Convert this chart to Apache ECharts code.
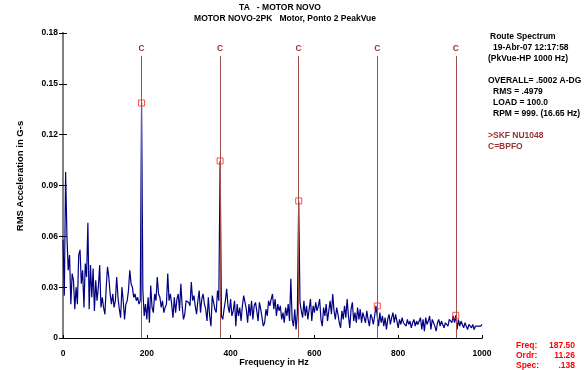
<!DOCTYPE html>
<html><head><meta charset="utf-8">
<script src="https://cdn.jsdelivr.net/npm/echarts@6/dist/echarts.min.js"></script>
<style>html,body{margin:0;padding:0;background:#fff}#c{width:586px;height:370px}</style>
</head><body><div id="c"></div><script>
// ---- data ----
const freqStep = 3.125; // Hz between spectral values (0..1000 Hz)
const band0to250 = [
0.058,0.025,0.098,0.060,0.040,0.049,0.020,0.038,0.034,0.017,
0.030,0.020,0.049,0.052,0.032,0.040,0.018,0.044,0.036,0.068,
0.017,0.043,0.024,0.041,0.016,0.034,0.022,0.030,0.043,0.018,
0.024,0.018,0.014,0.030,0.042,0.036,0.026,0.020,0.026,0.018,
0.022,0.036,0.024,0.017,0.012,0.030,0.022,0.011,0.020,0.022,
0.028,0.040,0.032,0.030,0.024,0.026,0.022,0.024,0.020,0.022,
0.139,0.028,0.013,0.020,0.011,0.024,0.009,0.031,0.018,0.015,
0.026,0.022,0.036,0.026,0.024,0.018,0.022,0.015,0.018,0.020,
0.038];
const band250to500 = [
0.022,0.026,0.020,0.012,0.024,0.015,0.023,0.026,0.016,0.032,
0.019,0.011,0.014,0.022,0.021,0.021,0.019,0.033,0.022,0.025,
0.019,0.014,0.022,0.028,0.015,0.023,0.026,0.020,0.017,0.010,
0.024,0.013,0.007,0.025,0.026,0.017,0.015,0.028,
0.022,0.1045,
0.013,0.011,0.017,0.022,0.029,0.019,0.015,0.023,0.013,0.016,
0.022,0.007,0.020,0.013,0.018,0.010,0.019,0.025,0.021,0.017,
0.009,0.020,0.013,0.022,0.011,0.019,0.021,0.016,0.010,0.021,
0.017,0.012,0.007,0.009,0.017,0.013,0.022,0.019,0.023,0.026];
const band500to750 = [
0.017,0.023,0.013,0.020,0.016,0.019,0.011,0.015,0.009,0.018,
0.013,0.020,0.010,0.035,0.011,0.007,0.017,0.005,
0.015,0.081,
0.021,0.016,0.012,0.022,0.013,0.019,0.011,0.017,0.023,0.010,
0.019,0.015,0.021,0.016,0.019,0.023,0.011,0.007,0.018,0.013,
0.020,0.010,0.016,0.022,0.014,0.026,0.016,0.011,0.018,0.014,
0.009,0.006,0.016,0.011,0.019,0.012,0.023,0.013,0.006,0.017,
0.021,0.010,0.015,0.009,0.018,0.011,0.017,0.009,0.015,0.012,
0.009,0.016,0.011,0.007,0.014,0.012,0.008,0.013,0.019,
0.019];
const band750to1000 = [
0.007,0.015,0.009,0.013,0.007,0.012,0.005,0.011,0.014,0.008,
0.012,0.015,0.009,0.014,0.010,0.006,0.011,0.008,0.012,0.009,
0.010,0.007,0.011,0.008,0.010,0.006,0.009,0.011,0.007,0.010,
0.008,0.009,0.012,0.005,0.011,0.004,0.012,0.008,0.010,0.013,
0.005,0.011,0.009,0.007,0.004,0.009,0.011,0.007,0.010,0.008,
0.006,0.009,0.010,0.007,0.011,0.012,0.009,0.013,
0.009,0.0134,
0.005,0.011,0.007,0.010,0.008,0.006,0.009,0.007,0.005,0.008,
0.007,0.006,0.008,0.005,0.007,0.006,0.007,0.008,0.007,
0.008];
const bpfoHarmonics = [187.5, 375, 562.5, 750, 937.5];
const bpfoPeaks = [0.1387, 0.1045, 0.0809, 0.0189, 0.0134];
const cursorFreq = 187.5;
const titleLines = ['TA   - MOTOR NOVO', 'MOTOR NOVO-2PK   Motor, Ponto 2 PeakVue'];
const infoLines = ['Route Spectrum', '19-Abr-07 12:17:58', '(PkVue-HP 1000 Hz)',
  'OVERALL= .5002 A-DG', 'RMS = .4979', 'LOAD = 100.0', 'RPM = 999. (16.65 Hz)'];
const faultLines = ['>SKF NU1048', 'C=BPFO'];
const cursorNames = ['Freq:', 'Ordr:', 'Spec:'];
const cursorValues = ['187.50', '11.26', '.138'];
const yName = 'RMS Acceleration in G-s';
const xName = 'Frequency in Hz';

// ---- chart ----
const spectrum = band0to250.concat(band250to500, band500to750, band750to1000);
const FF = '"Liberation Sans", Arial, Helvetica, sans-serif';
const font = (s) => 'bold ' + s + 'px ' + FF;
const chart = echarts.init(document.getElementById('c'), null, {renderer: 'canvas'});

const graphics = [];
const titleY = [8, 19], titleX = [280, 285];
titleLines.forEach((t, i) => graphics.push({type: 'text', x: titleX[i], y: titleY[i],
  style: {text: t, font: font(8.5), fill: '#000', align: 'center', verticalAlign: 'middle'}}));
const infoX = [490, 493, 488, 488, 493, 493, 493];
const infoY = [37, 48, 59, 81, 92, 103, 114];
infoLines.forEach((t, i) => graphics.push({type: 'text', x: infoX[i], y: infoY[i],
  style: {text: t, font: font(8.5), fill: '#000', align: 'left', verticalAlign: 'middle'}}));
const faultY = [136, 147];
faultLines.forEach((t, i) => graphics.push({type: 'text', x: 488, y: faultY[i],
  style: {text: t, font: font(8.5), fill: '#993333', align: 'left', verticalAlign: 'middle'}}));
const curY = [346, 356, 366];
cursorNames.forEach((t, i) => {
  graphics.push({type: 'text', x: 516, y: curY[i],
    style: {text: t, font: font(8.5), fill: '#ff0000', align: 'left', verticalAlign: 'middle'}});
  graphics.push({type: 'text', x: 575, y: curY[i],
    style: {text: cursorValues[i], font: font(8.5), fill: '#ff0000', align: 'right', verticalAlign: 'middle'}});
});
graphics.push({type: 'text', x: 20, y: 176, rotation: Math.PI / 2,
  style: {text: yName, font: font(9.5), fill: '#000', align: 'center', verticalAlign: 'middle'}});
graphics.push({type: 'text', x: 274, y: 363,
  style: {text: xName, font: font(9), fill: '#000', align: 'center', verticalAlign: 'middle'}});

const axisText = {fontFamily: FF, fontWeight: 'bold', fontSize: 8.5, color: '#000'};
const option = {
  animation: false,
  backgroundColor: '#fff',
  grid: {left: 63, right: 104, top: 33, bottom: 32, containLabel: false, outerBoundsMode: 'none'},
  xAxis: [{
    type: 'value', position: 'bottom', min: 0, max: 1000, interval: 200,
    axisLine: {lineStyle: {color: '#000', width: 1}},
    axisTick: {inside: true, length: 3, lineStyle: {color: '#000'}},
    axisLabel: Object.assign({margin: 11, formatter: v => String(v)}, axisText),
    splitLine: {show: false}
  }, {
    type: 'value', position: 'top', min: 0, max: 1000, interval: 200,
    axisLine: {lineStyle: {color: '#000', width: 1}},
    axisTick: {inside: false, length: 3, lineStyle: {color: '#000'}},
    axisLabel: {show: false}, splitLine: {show: false}
  }],
  yAxis: [{
    type: 'value', position: 'left', min: 0, max: 0.18, interval: 0.03,
    axisLine: {show: true, lineStyle: {color: '#808080', width: 2}},
    axisTick: {show: true, inside: false, length: 4, lineStyle: {color: '#000'}},
    axisLabel: Object.assign({margin: 5, formatter: v => v === 0 ? '0' : v.toFixed(2)}, axisText),
    splitLine: {show: false}
  }, {
    type: 'value', position: 'right', min: 0, max: 0.18, interval: 0.03,
    axisLine: {show: true, lineStyle: {color: '#808080', width: 2}},
    axisTick: {show: true, inside: false, length: 4, lineStyle: {color: '#000'}},
    axisLabel: {show: false}, splitLine: {show: false}
  }],
  graphic: graphics,
  series: [
    { // cursor
      type: 'line', data: [], clip: false, z: 1, silent: true,
      markLine: {silent: true, symbol: 'none', animation: false, label: {show: false},
        lineStyle: {color: '#ff0000', width: 1, type: 'solid'},
        data: [[{coord: [cursorFreq, 0.18]}, {coord: [cursorFreq, -0.0075]}]]}
    },
    { // BPFO harmonic markers
      type: 'line', data: [], z: 2, silent: true,
      markLine: {silent: true, symbol: 'none', animation: false,
        lineStyle: {color: '#a0504c', width: 1, type: 'solid'},
        label: {show: true, position: 'end', formatter: 'C', distance: 3,
          color: '#993333', fontFamily: FF, fontWeight: 'bold', fontSize: 8.5},
        data: bpfoHarmonics.map(f => [{coord: [f, 0]}, {coord: [f, 0.1665]}])}
    },
    {
      type: 'line', z: 3, showSymbol: false, symbol: 'none', silent: true,
      lineStyle: {color: '#000080', width: 1.2},
      data: spectrum.map((v, i) => [i * freqStep, v])
    },
    {
      type: 'scatter', z: 4, symbol: 'rect', symbolSize: 6, silent: true,
      itemStyle: {color: 'rgba(0,0,0,0)', borderColor: '#ff2020', borderWidth: 1},
      data: bpfoHarmonics.map((f, i) => [f, bpfoPeaks[i]])
    }
  ]
};
chart.setOption(option);
</script></body></html>
